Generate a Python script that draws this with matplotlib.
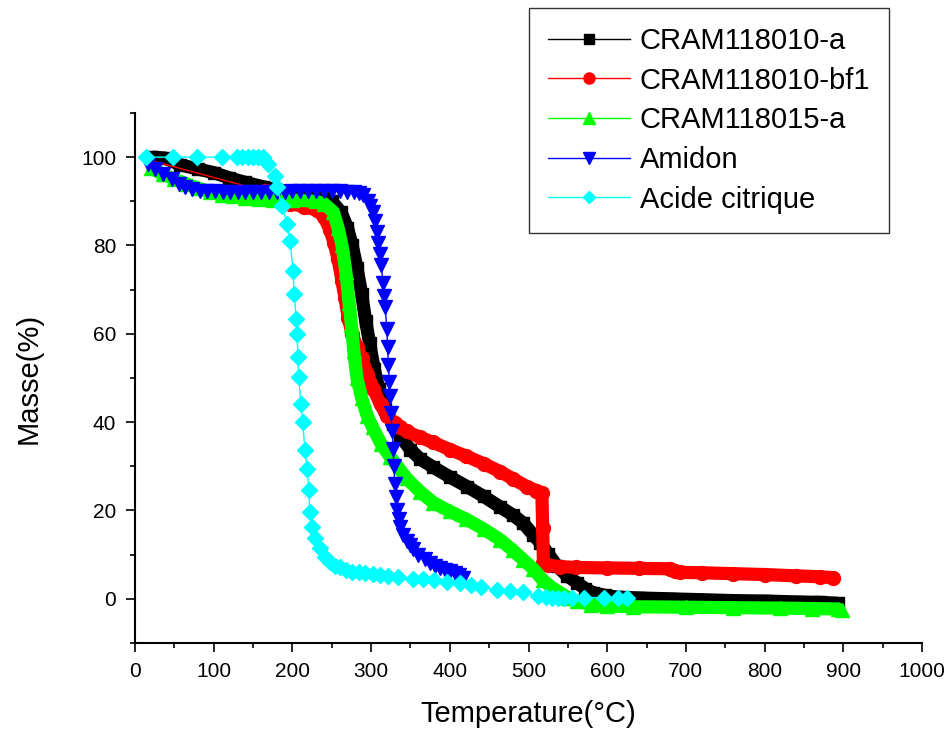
import matplotlib
matplotlib.use("Agg")
import matplotlib.pyplot as plt
import numpy as np
from matplotlib.ticker import MultipleLocator

plt.rcParams["font.family"] = ["Liberation Sans", "DejaVu Sans"]

# CRAM118010-a (black squares)
black_T = [22, 38, 57, 80, 100, 120, 140, 163, 180, 200, 220, 240, 250, 262, 270, 276, 282, 288, 293,
           298, 304, 310, 318, 328, 337, 350, 362, 379, 400, 422, 443, 464, 480, 493, 506, 515, 525, 536,
           549, 562, 572, 582, 597, 612, 640, 680, 720, 760, 800, 840, 870, 893]
black_M = [100.0, 99.8, 98.3, 97.3, 96.5, 95.3, 94.3, 93.3, 92.6, 92.2, 91.8, 91.2, 90.0, 87.5, 84.0,
           80.0, 75.0, 69.0, 63.0, 58.0, 52.0, 47.5, 43.0, 39.5, 36.8, 33.8, 31.7, 29.8, 27.6, 25.4, 23.2,
           20.8, 19.0, 17.2, 14.5, 12.7, 10.2, 7.5, 5.2, 3.6, 2.3, 1.4, 0.8, 0.4, 0.2, 0.0, -0.2, -0.4,
           -0.5, -0.7, -0.8, -1.0]

# CRAM118010-bf1 (red circles)
red_T = [25, 165, 180, 197, 215, 231, 240, 248, 253, 258, 263, 267, 271, 276, 282, 288, 295, 303, 312,
         320, 330, 337, 345, 362, 379, 400, 421, 443, 464, 480, 498, 510, 517, 518, 519, 525, 540, 560,
         600, 640, 680, 686, 692, 720, 760, 800, 840, 870, 887]
red_M = [99.0, 92.3, 91.5, 89.5, 88.8, 88.0, 86.5, 83.5, 80.5, 77.0, 72.0, 68.0, 63.5, 60.0, 57.0, 54.5,
         51.0, 47.5, 44.0, 41.5, 39.8, 39.0, 37.9, 36.6, 35.4, 33.8, 32.3, 30.6, 28.8, 27.2, 25.4, 24.5,
         24.0, 16.0, 8.2, 7.6, 7.3, 7.1, 7.0, 6.9, 6.8, 6.3, 6.0, 5.9, 5.7, 5.5, 5.2, 5.0, 4.8]

# CRAM118015-a (green triangles)
green_T = [20, 35, 50, 65, 80, 95, 110, 125, 140, 158, 175, 200, 230, 240, 252, 258, 263, 268, 272, 275,
           278, 282, 288, 295, 302, 313, 324, 345, 362, 379, 400, 421, 443, 464, 480, 493, 506, 518, 530,
           540, 550, 562, 580, 600, 633, 700, 760, 820, 860, 893, 898]
green_M = [97.5, 96.2, 95.0, 94.0, 93.0, 92.2, 91.5, 91.1, 90.8, 90.5, 90.3, 90.3, 90.0, 89.5, 87.6,
           84.0, 80.0, 74.0, 67.0, 62.0, 56.0, 50.0, 45.5, 41.5, 38.8, 35.0, 32.2, 27.3, 24.3, 21.8, 19.8,
           18.0, 15.8, 13.4, 11.0, 8.9, 6.8, 4.3, 2.5, 1.4, 0.3, -0.6, -1.3, -1.6, -1.8, -1.9, -2.0, -2.1,
           -2.2, -2.3, -2.6]

# Amidon (blue down triangles)
blue_T = [16, 25, 35, 47, 56, 64, 73, 83, 92, 102, 112, 121, 131, 140, 150, 160, 170, 180, 190, 200, 210,
          220, 230, 240, 250, 260, 270, 278, 284, 290, 296, 299, 302, 305, 307, 309, 311, 313, 315, 317,
          318, 320, 321, 322, 323, 324, 325, 327, 328, 329, 330, 332, 333, 335, 337, 341, 345, 349, 353,
          360, 368, 375, 381, 388, 394, 400, 407, 412, 417]
blue_M = [98.5, 97.3, 96.2, 95.0, 94.0, 93.2, 92.7, 92.3, 92.3, 92.3, 92.1, 92.0, 92.0, 92.0, 92.0, 92.0,
          92.0, 92.1, 92.2, 92.3, 92.3, 92.3, 92.3, 92.3, 92.3, 92.3, 92.2, 92.0, 91.8, 91.5, 90.0, 89.0,
          87.6, 85.6, 83.0, 80.5, 78.0, 75.5, 71.5, 68.5, 66.0, 61.0, 57.0, 53.0, 49.0, 46.0, 42.0, 38.0,
          34.0, 30.0, 26.0, 23.0, 20.0, 18.0, 16.3, 14.5, 13.2, 12.2, 11.3, 10.0, 9.0, 8.2, 7.5, 7.0, 6.6,
          6.2, 5.9, 5.5, 4.8]

# Acide citrique (cyan diamonds)
cyan_T = [14, 48, 79, 111, 130, 136, 143, 150, 156, 163, 169, 178, 180, 187, 193, 197, 201, 202, 205,
          206, 207, 208, 211, 213, 216, 219, 221, 222, 225, 229, 235, 242, 248, 254, 260, 268, 276, 284,
          292, 302, 311, 322, 334, 353, 366, 380, 396, 413, 427, 440, 460, 477, 493, 512, 522, 530, 538,
          545, 555, 570, 596, 614, 625]
cyan_M = [100, 100, 100, 100, 100, 100, 100, 100, 100, 100, 98.5, 95.8, 93.3, 89.0, 84.9, 81.0, 74.2,
          69.0, 63.3, 60.0, 54.7, 50.2, 44.0, 40.0, 33.8, 29.3, 24.7, 19.7, 16.3, 13.8, 11.6, 9.5, 8.4,
          7.5, 7.3, 6.5, 6.1, 6.0, 5.9, 5.6, 5.4, 5.2, 5.0, 4.5, 4.4, 4.3, 3.9, 3.5, 3.1, 2.7, 2.0, 1.8,
          1.6, 0.6, 0.5, 0.3, 0.3, 0.3, 0.3, 0.3, 0.3, 0.3, 0.3]

labels = ["CRAM118010-a", "CRAM118010-bf1", "CRAM118015-a", "Amidon", "Acide citrique"]

fig = plt.figure(figsize=(9.5, 7.36), dpi=100)
ax = fig.add_axes([135 / 950, 1 - 643 / 736, (922 - 135) / 950, (643 - 113) / 736])

band = 9.5
# thick bands stand in for the densely sampled curves
ax.plot(black_T, black_M, color="black", lw=band, solid_joinstyle="round", solid_capstyle="butt", zorder=2)
ax.plot(black_T, black_M, color="black", lw=1, marker="s", ms=9, label=labels[0], zorder=2)

ax.plot(red_T[1:], red_M[1:], color="red", lw=band, solid_joinstyle="round", solid_capstyle="round",
        zorder=3)
ax.plot(red_T, red_M, color="red", lw=1, marker="o", ms=10, markevery=list(range(1, len(red_T))),
        label=labels[1], zorder=3)

ax.plot(green_T, green_M, color="#00ff00", lw=band, solid_joinstyle="round", solid_capstyle="butt", zorder=4)
ax.plot(green_T, green_M, color="#00ff00", lw=1, marker="^", ms=10, label=labels[2], zorder=4)

ax.plot(blue_T, blue_M, color="#0000ff", lw=1, marker="v", ms=10.5, label=labels[3], zorder=5)
ax.plot(cyan_T, cyan_M, color="#00ffff", lw=1, marker="D", ms=8, label=labels[4], zorder=6)

ax.set_xlim(0, 1000)
ax.set_ylim(-10, 110)
ax.xaxis.set_major_locator(MultipleLocator(100))
ax.xaxis.set_minor_locator(MultipleLocator(50))
ax.yaxis.set_major_locator(MultipleLocator(20))
ax.yaxis.set_minor_locator(MultipleLocator(10))

for s in ["top", "right"]:
    ax.spines[s].set_visible(False)
for s in ["left", "bottom"]:
    ax.spines[s].set_linewidth(1.5)

ax.tick_params(which="major", length=6.5, width=1.2, labelsize=15, pad=7)
ax.tick_params(which="minor", length=3.5, width=1.2)

ax.set_xlabel("Temperature(°C)", fontsize=21, labelpad=14)
ax.set_ylabel("Masse(%)", fontsize=21, labelpad=28)

leg = ax.legend(loc="upper left", bbox_to_anchor=(529 / 950, 1 - 8 / 736), bbox_transform=fig.transFigure,
                borderaxespad=0, fontsize=21, frameon=True, fancybox=False, handlelength=2.8,
                handletextpad=0.35, labelspacing=0.4, borderpad=0.65, markerscale=0.8)
leg.get_frame().set_edgecolor("black")
leg.get_frame().set_linewidth(1.0)

fig.savefig("out.png", dpi=100)
